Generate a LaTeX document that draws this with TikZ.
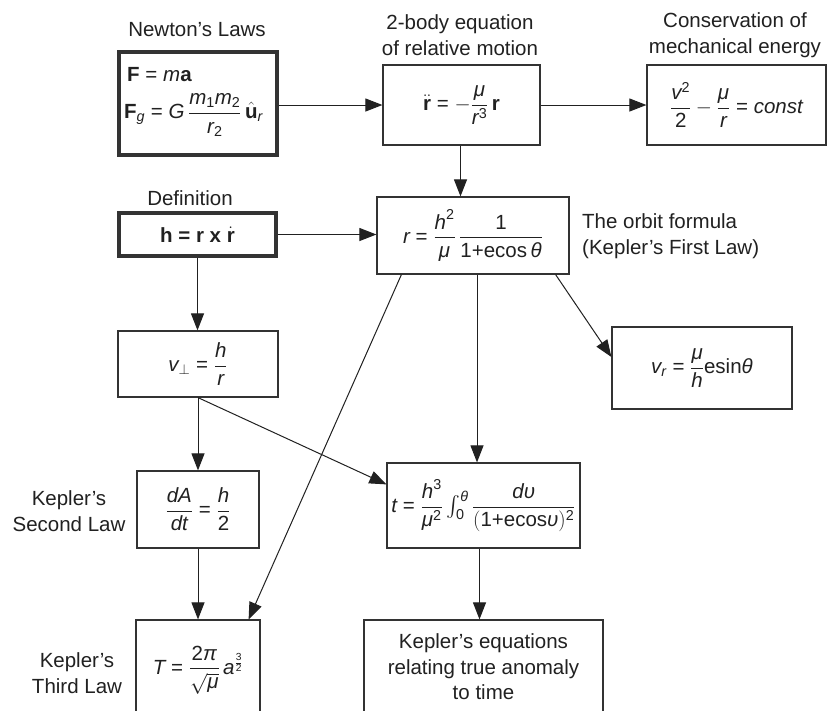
\documentclass[tikz,border=0pt]{standalone}
\usepackage{amsmath}
\usepackage{fontspec}
\setmainfont{Liberation Sans}
\usetikzlibrary{arrows.meta,calc}
\newcommand\mi[1]{\text{\itshape #1}}
\newcommand\mb[1]{\text{\bfseries\upshape #1}}
\newcommand\mr[1]{\text{\upshape\mdseries #1}}
\newcommand\eq{\mathrel{\mr{=}}}
\tikzset{
  every node/.style={font=\fontsize{20.5}{25.5}\selectfont, text=black!87},
  box/.style={draw=black!80, line width=1.2pt, rectangle, inner sep=0pt},
  thickbox/.style={box, line width=4pt},
  arr/.style={draw=black!87, line width=1pt, -{Triangle[length=17pt,width=13pt]}},
  lbl/.style={align=center, inner sep=0pt},
}
\begin{document}
\begin{tikzpicture}[x=1pt,y=-1pt]
\useasboundingbox (0,0) rectangle (827,710);
\clip (0,0) rectangle (827,710);
\fill[white] (0,0) rectangle (827,710);

% labels
\node[lbl] (lnewton) at (197,30) {Newton's Laws};
\node[lbl] (ltwobody) at (460,35) {2-body equation\\of relative motion};
\node[lbl] (lcons) at (735,35) {Conservation of\\mechanical energy};
\node[lbl] (ldef) at (190,198) {Definition};
\node[lbl, align=left, anchor=west] (lorbit) at (582,236) {The orbit formula\\(Kepler's First Law)};
\node[lbl] (lsecond) at (69,511) {Kepler's\\Second Law};
\node[lbl] (lthird) at (77,673) {Kepler's\\Third Law};

% boxes
\node[thickbox, minimum width=158pt, minimum height=103pt] (newton) at (198,103) {};
\node[anchor=west, inner sep=0pt] (nl1) at (127,75) {$\mb{F} \eq \mi{m}\mb{a}$};
\node[anchor=west, inner sep=0pt] (nl2) at (124,115) {$\mb{F}_{\mi{g}} \eq \mi{G}\,\dfrac{\mi{m}_{\mr{1}}\mi{m}_{\mr{2}}}{\mi{r}_{\mr{2}}}\,\hat{\mb{u}}_{\mi{r}}$};

\node[box, minimum width=157pt, minimum height=80pt] (twobody) at (461.5,105)
  {$\ddot{\mb{r}} \eq -\dfrac{\mi{μ}}{\mi{r}^{\mr{3}}}\,\mb{r}$};
\node[box, minimum width=179pt, minimum height=80pt] (cons) at (736.5,105)
  {$\dfrac{\mi{v}^{\mr{2}}}{\mr{2}} - \dfrac{\mi{μ}}{\mi{r}} \eq \mi{const}$};

\node[thickbox, minimum width=157pt, minimum height=43pt] (def) at (197.5,234.5)
  {\textbf{h = r x} $\dot{\mb{r}}$};
\node[box, minimum width=192pt, minimum height=77pt] (orbit) at (473,235.5)
  {$\mi{r} \eq \dfrac{\mi{h}^{\mr{2}}}{\mi{μ}}\,\dfrac{\mr{1}}{\mr{1+ecos}\,\mi{θ}}$};

\node[box, minimum width=160pt, minimum height=66pt] (vperp) at (198,364)
  {$\mi{v}_{\perp} \eq \dfrac{\mi{h}}{\mi{r}}$};
\node[box, minimum width=180pt, minimum height=82pt] (vr) at (702,368)
  {$\mi{v}_{\mi{r}} \eq \dfrac{\mi{μ}}{\mi{h}}\mr{esin}\mi{θ}$};

\node[box, minimum width=122pt, minimum height=77pt] (dA) at (198,509.5)
  {$\dfrac{\mi{dA}}{\mi{dt}} \eq \dfrac{\mi{h}}{\mr{2}}$};
\node[box, minimum width=193pt, minimum height=85pt] (t) at (483.5,505.5)
  {$\mi{t} \eq \dfrac{\mi{h}^{\mr{3}}}{\mi{μ}^{\mr{2}}}\int_{\mr{0}}^{\mi{θ}}\dfrac{\mi{dυ}}{(\mr{1+ecos}\mi{υ})^{\mr{2}}}$};

\node[box, minimum width=124pt, minimum height=100pt] (T) at (198,670)
  {$\mi{T} \eq \dfrac{\mr{2}\mi{π}}{\sqrt{\mi{μ}}}\,\mi{a}^{\frac{\mr{3}}{\mr{2}}}$};
\node[box, minimum width=239pt, minimum height=94pt, align=center] (kep) at (483.5,667)
  {Kepler's equations\\relating true anomaly\\to time};

% connectors
\draw[arr] (newton.east |- twobody.west) -- (twobody.west);
\draw[arr] (twobody.east) -- (cons.west);
\draw[arr] ([xshift=-1pt]twobody.south) -- ([xshift=-1pt]twobody.south |- orbit.north);
\draw[arr] (def.east) -- (def.east -| orbit.west);
\draw[arr] (def.south) -- (def.south |- vperp.north);
\draw[arr] ([xshift=-14pt]orbit.south east) -- ([yshift=11pt]vr.west);
\draw[arr] ([xshift=4pt]orbit.south) -- ([xshift=4pt]orbit.south |- t.north);
\draw[arr] ([xshift=25pt]orbit.south west) -- ([xshift=-12pt]T.north east);
\draw[arr] (vperp.south) -- ([yshift=-22pt]t.north west);
\draw[arr] (vperp.south) -- (dA.north);
\draw[arr] (dA.south) -- (dA.south |- T.north);
\draw[arr] ([xshift=-4pt]t.south) -- ([xshift=-4pt]t.south |- kep.north);
\end{tikzpicture}
\end{document}
